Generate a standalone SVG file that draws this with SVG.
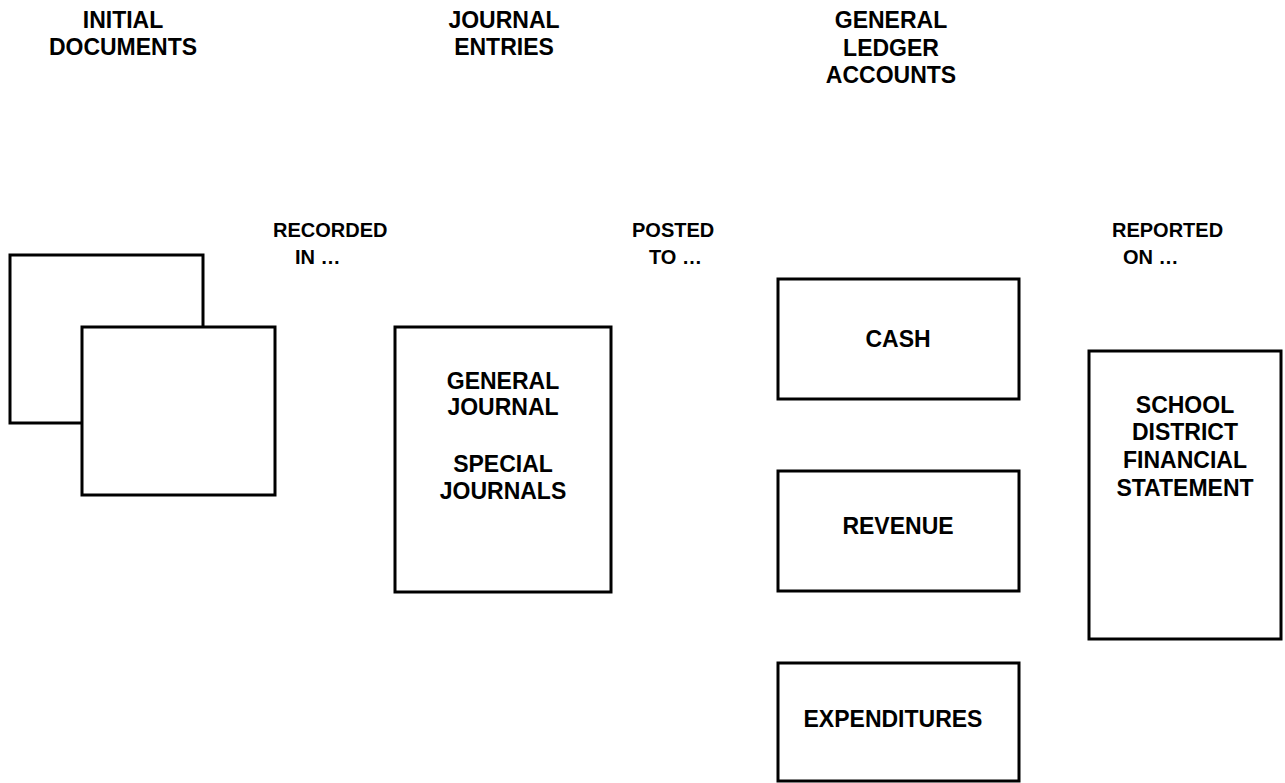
<svg xmlns="http://www.w3.org/2000/svg" width="1285" height="783" viewBox="0 0 1285 783">
<style>
text{font-family:"Liberation Sans",Arial,sans-serif;font-weight:bold;fill:#000}
.h{font-size:23px;text-anchor:middle}
.b{font-size:23px;text-anchor:middle}
.l{font-size:20px}
.box{fill:#fff;stroke:#000;stroke-width:3}
</style>
<rect width="1285" height="783" fill="#fff"/>
<g id="headers">
<text class="h" x="123" y="28">INITIAL</text>
<text class="h" x="123" y="55">DOCUMENTS</text>
<text class="h" x="504" y="28">JOURNAL</text>
<text class="h" x="504" y="55">ENTRIES</text>
<text class="h" x="891" y="28">GENERAL</text>
<text class="h" x="891" y="56">LEDGER</text>
<text class="h" x="891" y="83">ACCOUNTS</text>
</g>
<g id="labels">
<text class="l" x="273" y="237">RECORDED</text>
<text class="l" x="295" y="264">IN …</text>
<text class="l" x="632" y="237">POSTED</text>
<text class="l" x="649" y="264">TO …</text>
<text class="l" x="1112" y="237">REPORTED</text>
<text class="l" x="1123" y="264">ON …</text>
</g>
<g id="connectors"/>
<g id="initial-documents">
<rect class="box" x="10" y="255" width="193" height="168"/>
<rect class="box" x="82" y="327" width="193" height="168"/>
</g>
<g id="journals">
<rect class="box" x="395" y="327" width="216" height="265"/>
<text class="b" x="503" y="389">GENERAL</text>
<text class="b" x="503" y="415">JOURNAL</text>
<text class="b" x="503" y="472">SPECIAL</text>
<text class="b" x="503" y="499">JOURNALS</text>
</g>
<g id="cash">
<rect class="box" x="778" y="279" width="241" height="120"/>
<text class="b" x="898" y="347">CASH</text>
</g>
<g id="revenue">
<rect class="box" x="778" y="471" width="241" height="120"/>
<text class="b" x="898" y="534">REVENUE</text>
</g>
<g id="expenditures">
<rect class="box" x="778" y="663" width="241" height="118"/>
<text class="b" x="893" y="727">EXPENDITURES</text>
</g>
<g id="statement">
<rect class="box" x="1089" y="351" width="192" height="288"/>
<text class="b" x="1185" y="413">SCHOOL</text>
<text class="b" x="1185" y="440">DISTRICT</text>
<text class="b" x="1185" y="468">FINANCIAL</text>
<text class="b" x="1185" y="496">STATEMENT</text>
</g>
</svg>
